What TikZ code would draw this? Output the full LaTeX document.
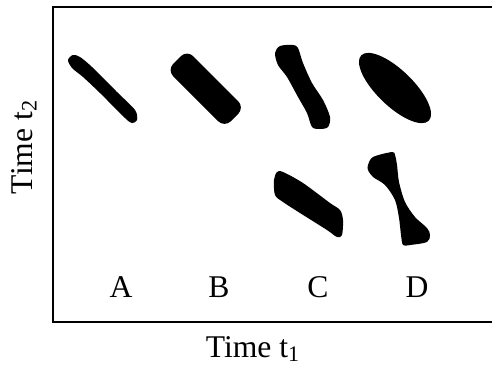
\documentclass[tikz,border=0pt]{standalone}
\usepackage{fontspec}
\setmainfont{Liberation Serif}
\usetikzlibrary{positioning}

\begin{document}
\begin{tikzpicture}[x=0.02cm, y=-0.02cm,
    lbl/.style={font=\fontsize{18}{21}\selectfont, inner sep=0pt},
    blob/.style={fill=black}]
        \useasboundingbox (0,0) rectangle (492,366);
        % frame
        \draw[line width=1.2pt] (492,7) -- (53,7) -- (53,322) -- (492,322);

        % upper row
        \fill[blob] plot[smooth cycle] coordinates {(68,60) (73,55) (80,57) (92,67) (117,92) (135,110) (137,120) (132,123) (125,118) (100,93) (83,77) (72,68)};
        \fill[blob, rounded corners=5pt] (187,50) -- (244.5,107.5) -- (224.5,127.5) -- (167,70) -- cycle;
        \fill[blob] plot[smooth cycle] coordinates {(275,53) (280,46) (293,45) (298,48) (303,63) (312,83) (323,100) (330,117) (328,127) (320,129) (312,127) (307,113) (298,97) (287,77) (278,65)};
        \fill[blob, rotate around={-44:(395,88)}] (395,88) ellipse [x radius=47, y radius=18];

        % lower row
        \fill[blob] plot[smooth cycle] coordinates {(277,172) (283,172) (303,183) (330,203) (340,210) (343,220) (342,235) (337,237) (327,230) (300,213) (283,202) (275,195) (274,180)};
        \fill[blob] plot[smooth cycle] coordinates {(368,165) (373,157) (392,152) (395,155) (397,165) (399,182) (405,202) (415,217) (427,228) (430,235) (427,242) (410,245) (403,245) (401,235) (399,218) (395,200) (385,185) (373,177) (368,170)};

        \node (labA) [lbl] at (121,287) {A};
        \node (labB) [lbl] at (219,287) {B};
        \node (labC) [lbl] at (318,287) {C};
        \node (labD) [lbl] at (417,287) {D};
        \node (xlab) [lbl, anchor=base] at (253,357) {Time t\textsubscript{1}};
        \node (ylab) [lbl, rotate=90, anchor=base] at (32,147) {Time t\textsubscript{2}};
    \end{tikzpicture}
\end{document}
